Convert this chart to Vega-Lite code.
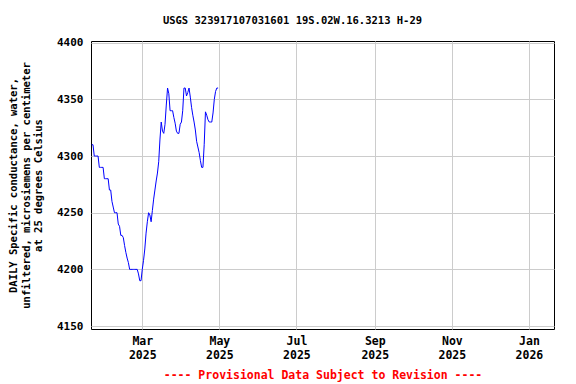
{
  "$schema": "https://vega.github.io/schema/vega-lite/v6.json",
  "width": 463,
  "height": 288,
  "autosize": {"type": "none"},
  "padding": {"left": 91, "top": 41, "right": 22, "bottom": 55},
  "background": "white",
  "config": {
    "view": {"stroke": "black", "strokeWidth": 1},
    "font": "DejaVu Sans Mono"
  },
  "title": {
    "text": "USGS 323917107031601 19S.02W.16.3213 H-29",
    "font": "DejaVu Sans Mono",
    "fontSize": 10.5,
    "fontWeight": "bold",
    "anchor": "middle",
    "dx": -30,
    "offset": 10,
    "color": "black"
  },
  "data": {
    "values": [
      {"date": "2025-01-20", "value": 4310},
      {"date": "2025-01-21", "value": 4310},
      {"date": "2025-01-22", "value": 4300},
      {"date": "2025-01-23", "value": 4300},
      {"date": "2025-01-24", "value": 4300},
      {"date": "2025-01-25", "value": 4300},
      {"date": "2025-01-26", "value": 4290},
      {"date": "2025-01-27", "value": 4290},
      {"date": "2025-01-28", "value": 4290},
      {"date": "2025-01-29", "value": 4290},
      {"date": "2025-01-30", "value": 4280},
      {"date": "2025-01-31", "value": 4280},
      {"date": "2025-02-01", "value": 4280},
      {"date": "2025-02-02", "value": 4280},
      {"date": "2025-02-03", "value": 4270},
      {"date": "2025-02-04", "value": 4270},
      {"date": "2025-02-05", "value": 4260},
      {"date": "2025-02-06", "value": 4255},
      {"date": "2025-02-07", "value": 4250},
      {"date": "2025-02-08", "value": 4250},
      {"date": "2025-02-09", "value": 4250},
      {"date": "2025-02-10", "value": 4240},
      {"date": "2025-02-11", "value": 4238},
      {"date": "2025-02-12", "value": 4230},
      {"date": "2025-02-13", "value": 4230},
      {"date": "2025-02-14", "value": 4228},
      {"date": "2025-02-15", "value": 4221},
      {"date": "2025-02-16", "value": 4215},
      {"date": "2025-02-17", "value": 4210},
      {"date": "2025-02-18", "value": 4206},
      {"date": "2025-02-19", "value": 4200},
      {"date": "2025-02-20", "value": 4200},
      {"date": "2025-02-21", "value": 4200},
      {"date": "2025-02-22", "value": 4200},
      {"date": "2025-02-23", "value": 4200},
      {"date": "2025-02-24", "value": 4200},
      {"date": "2025-02-25", "value": 4200},
      {"date": "2025-02-26", "value": 4196},
      {"date": "2025-02-27", "value": 4190},
      {"date": "2025-02-28", "value": 4190},
      {"date": "2025-03-01", "value": 4200},
      {"date": "2025-03-02", "value": 4208},
      {"date": "2025-03-03", "value": 4218},
      {"date": "2025-03-04", "value": 4232},
      {"date": "2025-03-05", "value": 4242},
      {"date": "2025-03-06", "value": 4250},
      {"date": "2025-03-07", "value": 4248},
      {"date": "2025-03-08", "value": 4242},
      {"date": "2025-03-09", "value": 4252},
      {"date": "2025-03-10", "value": 4262},
      {"date": "2025-03-11", "value": 4270},
      {"date": "2025-03-12", "value": 4278},
      {"date": "2025-03-13", "value": 4285},
      {"date": "2025-03-14", "value": 4295},
      {"date": "2025-03-15", "value": 4315},
      {"date": "2025-03-16", "value": 4330},
      {"date": "2025-03-17", "value": 4322},
      {"date": "2025-03-18", "value": 4320},
      {"date": "2025-03-19", "value": 4328},
      {"date": "2025-03-20", "value": 4345},
      {"date": "2025-03-21", "value": 4360},
      {"date": "2025-03-22", "value": 4355},
      {"date": "2025-03-23", "value": 4340},
      {"date": "2025-03-24", "value": 4340},
      {"date": "2025-03-25", "value": 4340},
      {"date": "2025-03-26", "value": 4334},
      {"date": "2025-03-27", "value": 4329},
      {"date": "2025-03-28", "value": 4322},
      {"date": "2025-03-29", "value": 4320},
      {"date": "2025-03-30", "value": 4320},
      {"date": "2025-03-31", "value": 4328},
      {"date": "2025-04-01", "value": 4330},
      {"date": "2025-04-02", "value": 4340},
      {"date": "2025-04-03", "value": 4360},
      {"date": "2025-04-04", "value": 4360},
      {"date": "2025-04-05", "value": 4353},
      {"date": "2025-04-06", "value": 4356},
      {"date": "2025-04-07", "value": 4360},
      {"date": "2025-04-08", "value": 4352},
      {"date": "2025-04-09", "value": 4343},
      {"date": "2025-04-10", "value": 4336},
      {"date": "2025-04-11", "value": 4330},
      {"date": "2025-04-12", "value": 4323},
      {"date": "2025-04-13", "value": 4313},
      {"date": "2025-04-14", "value": 4308},
      {"date": "2025-04-15", "value": 4303},
      {"date": "2025-04-16", "value": 4296},
      {"date": "2025-04-17", "value": 4290},
      {"date": "2025-04-18", "value": 4290},
      {"date": "2025-04-19", "value": 4310},
      {"date": "2025-04-20", "value": 4339},
      {"date": "2025-04-21", "value": 4336},
      {"date": "2025-04-22", "value": 4332},
      {"date": "2025-04-23", "value": 4330},
      {"date": "2025-04-24", "value": 4330},
      {"date": "2025-04-25", "value": 4330},
      {"date": "2025-04-26", "value": 4338},
      {"date": "2025-04-27", "value": 4350},
      {"date": "2025-04-28", "value": 4357},
      {"date": "2025-04-29", "value": 4360},
      {"date": "2025-04-30", "value": 4360}
    ]
  },
  "mark": {"type": "line", "color": "#0000ff", "strokeWidth": 1, "clip": true},
  "encoding": {
    "x": {
      "field": "date",
      "type": "temporal",
      "scale": {
        "type": "utc",
        "domain": [
          {"year": 2025, "month": 1, "date": 19, "hours": 10, "utc": true},
          {"year": 2026, "month": 1, "date": 20, "hours": 20, "utc": true}
        ]
      },
      "axis": {
        "values": [
          {"year": 2025, "month": 3, "date": 1, "utc": true},
          {"year": 2025, "month": 5, "date": 1, "utc": true},
          {"year": 2025, "month": 7, "date": 1, "utc": true},
          {"year": 2025, "month": 9, "date": 1, "utc": true},
          {"year": 2025, "month": 11, "date": 1, "utc": true},
          {"year": 2026, "month": 1, "date": 1, "utc": true}
        ],
        "labelExpr": "[utcFormat(datum.value, '%b'), utcFormat(datum.value, '%Y')]",
        "labelFont": "DejaVu Sans Mono",
        "labelFontSize": 11.5,
        "labelFontWeight": "bold",
        "labelColor": "black",
        "labelLineHeight": 14,
        "labelPadding": 6,
        "labelBaseline": "top",
        "ticks": false,
        "domain": false,
        "grid": true,
        "gridColor": "#cccccc",
        "gridWidth": 1,
        "title": "---- Provisional Data Subject to Revision ----",
        "titleFont": "DejaVu Sans Mono",
        "titleFontSize": 11.5,
        "titleFontWeight": "bold",
        "titleColor": "red",
        "titlePadding": 9
      }
    },
    "y": {
      "field": "value",
      "type": "quantitative",
      "scale": {"domain": [4147.4, 4401.5], "nice": false, "zero": false},
      "axis": {
        "values": [4150, 4200, 4250, 4300, 4350, 4400],
        "format": "d",
        "labelFont": "DejaVu Sans Mono",
        "labelFontSize": 11,
        "labelFontWeight": "bold",
        "labelColor": "black",
        "labelPadding": 8,
        "ticks": false,
        "domain": false,
        "grid": true,
        "gridColor": "#cccccc",
        "gridWidth": 1,
        "title": ["DAILY Specific conductance, water,", "unfiltered, microsiemens per centimeter", "at 25 degrees Celsius"],
        "titleFont": "DejaVu Sans Mono",
        "titleFontSize": 10.5,
        "titleFontWeight": "bold",
        "titleColor": "black",
        "titleLineHeight": 12.5,
        "titlePadding": 13
      }
    }
  }
}
